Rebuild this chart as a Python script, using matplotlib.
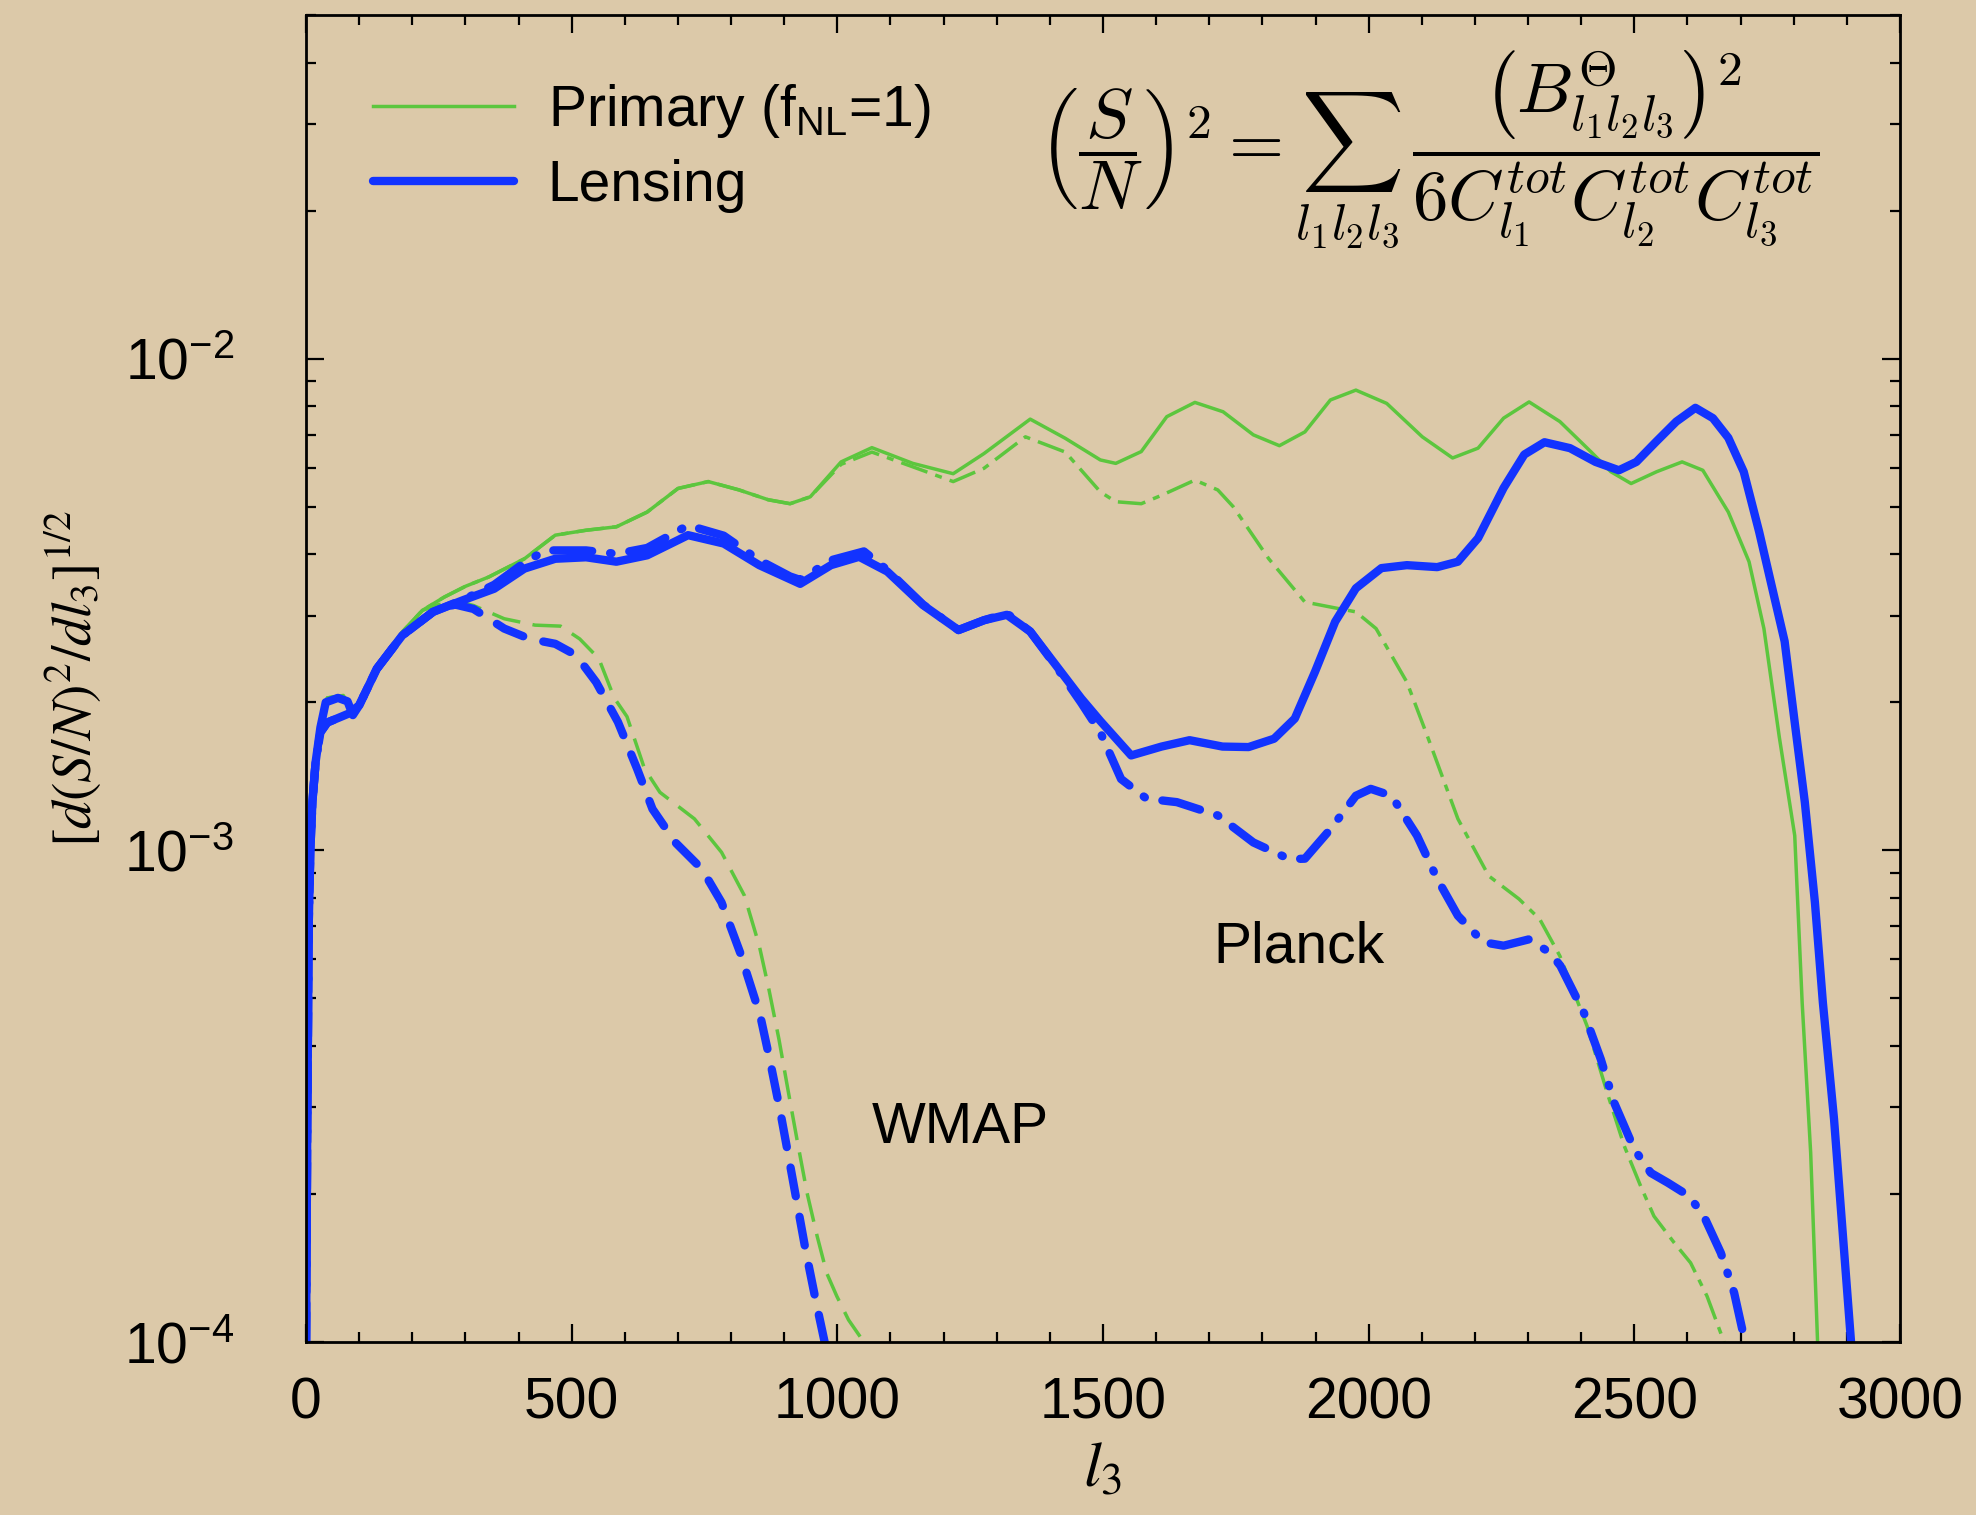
import numpy as np
import matplotlib
matplotlib.use('Agg')
import matplotlib.pyplot as plt
from matplotlib.ticker import MultipleLocator, LogLocator, NullFormatter

plt.rcParams['font.family'] = ['Liberation Sans', 'DejaVu Sans']
plt.rcParams['lines.scale_dashes'] = False

# ---- data (l3, log10 of [d(S/N)^2/dl3]^(1/2)) ----
# Primary (fNL=1), no noise
prim_l = [0, 2, 5, 8, 12, 18, 27, 40, 70, 88, 100, 133, 181, 219, 260, 300, 344, 411, 469, 527,
          584, 642, 700, 757, 815, 870, 911, 949, 1007, 1065, 1142, 1218, 1276, 1363, 1429, 1495,
          1524, 1572, 1620, 1673, 1726, 1783, 1832, 1880, 1928, 1976, 2034, 2101, 2158, 2206,
          2254, 2302, 2360, 2418, 2456, 2494, 2542, 2590, 2629, 2677, 2716, 2744, 2773, 2802,
          2816, 2832, 2845]
prim_log = [-4.0, -3.6, -3.15, -3.0, -2.9, -2.82, -2.75, -2.69, -2.685, -2.715, -2.70, -2.626,
            -2.556, -2.512, -2.485, -2.463, -2.444, -2.407, -2.359, -2.349, -2.342, -2.312,
            -2.264, -2.25, -2.267, -2.287, -2.295, -2.281, -2.21, -2.181, -2.213, -2.234,
            -2.193, -2.123, -2.162, -2.206, -2.213, -2.189, -2.118, -2.089, -2.108, -2.155,
            -2.177, -2.149, -2.084, -2.064, -2.091, -2.159, -2.202, -2.182, -2.121, -2.088,
            -2.128, -2.189, -2.23, -2.254, -2.23, -2.21, -2.227, -2.312, -2.413, -2.549,
            -2.77, -2.97, -3.31, -3.615, -4.0]

# Lensing, no noise
lens_l = [0, 2, 5, 8, 12, 18, 27, 37, 60, 78, 88, 100, 133, 181, 239, 296, 354, 411, 469, 527,
          584, 642, 719, 786, 853, 930, 988, 1041, 1094, 1161, 1228, 1276, 1319, 1363, 1411,
          1459, 1495, 1553, 1610, 1663, 1725, 1774, 1822, 1861, 1899, 1937, 1976, 2024, 2072,
          2129, 2168, 2206, 2254, 2293, 2331, 2379, 2427, 2471, 2504, 2541, 2579, 2615, 2648,
          2677, 2706, 2735, 2764, 2783, 2802, 2821, 2840, 2855, 2876, 2908]
lens_log = [-4.0, -3.6, -3.15, -3.0, -2.9, -2.82, -2.75, -2.699, -2.69, -2.697, -2.725, -2.705,
            -2.631, -2.563, -2.515, -2.491, -2.468, -2.427, -2.407, -2.404, -2.413, -2.40,
            -2.359, -2.376, -2.42, -2.458, -2.42, -2.403, -2.433, -2.501, -2.552, -2.532,
            -2.521, -2.555, -2.623, -2.691, -2.737, -2.807, -2.789, -2.776, -2.789, -2.79,
            -2.773, -2.732, -2.637, -2.535, -2.467, -2.426, -2.42, -2.424, -2.413, -2.365,
            -2.263, -2.195, -2.170, -2.182, -2.21, -2.227, -2.21, -2.169, -2.128, -2.1,
            -2.121, -2.161, -2.23, -2.352, -2.487, -2.575, -2.74, -2.902, -3.106, -3.31,
            -3.547, -4.0]

# Primary, WMAP noise
prim_wmap_l = [0, 2, 5, 8, 12, 18, 27, 40, 70, 88, 100, 133, 181, 219, 250, 290, 315, 373, 431,
               479, 515, 551, 580, 604, 637, 666, 731, 782, 825, 853, 871, 890, 908, 924, 943,
               962, 980, 999, 1021, 1053]
prim_wmap_log = [-4.0, -3.6, -3.15, -3.0, -2.9, -2.82, -2.75, -2.69, -2.685, -2.715, -2.70,
                 -2.626, -2.556, -2.512, -2.50, -2.495, -2.502, -2.529, -2.542, -2.544, -2.57,
                 -2.61, -2.69, -2.728, -2.834, -2.882, -2.936, -3.004, -3.092, -3.194, -3.282,
                 -3.384, -3.493, -3.588, -3.697, -3.785, -3.86, -3.907, -3.955, -4.005]

# Lensing, WMAP noise
lens_wmap_l = [0, 2, 5, 8, 12, 18, 27, 40, 80, 100, 133, 181, 239, 280, 315, 373, 421, 469, 508,
               546, 587, 623, 652, 695, 745, 782, 817, 855, 874, 893, 908, 924, 940, 959, 977]
lens_wmap_log = [-4.0, -3.6, -3.15, -3.0, -2.9, -2.82, -2.76, -2.74, -2.722, -2.705, -2.631,
                 -2.563, -2.515, -2.50, -2.509, -2.549, -2.57, -2.58, -2.603, -2.658, -2.739,
                 -2.834, -2.916, -2.984, -3.038, -3.106, -3.208, -3.337, -3.432, -3.534,
                 -3.622, -3.717, -3.812, -3.914, -4.005]

# Primary, Planck noise
prim_planck_l = [0, 2, 5, 8, 12, 18, 27, 40, 70, 88, 100, 133, 181, 219, 260, 300, 344, 411,
                 469, 527, 584, 642, 700, 757, 815, 870, 911, 949, 1007, 1065, 1142, 1218, 1276,
                 1354, 1429, 1495, 1524, 1572, 1610, 1673, 1716, 1745, 1812, 1880, 1937, 1976,
                 2014, 2072, 2110, 2168, 2226, 2283, 2322, 2360, 2411, 2449, 2481, 2512, 2537,
                 2575, 2606, 2637, 2669]
prim_planck_log = [-4.0, -3.6, -3.15, -3.0, -2.9, -2.82, -2.75, -2.69, -2.685, -2.715, -2.70,
                   -2.626, -2.556, -2.512, -2.485, -2.463, -2.444, -2.407, -2.359, -2.349,
                   -2.342, -2.312, -2.264, -2.25, -2.267, -2.287, -2.295, -2.281, -2.215,
                   -2.19, -2.22, -2.25, -2.223, -2.159, -2.19, -2.271, -2.291, -2.295, -2.278,
                   -2.247, -2.267, -2.301, -2.407, -2.495, -2.507, -2.515, -2.549, -2.658,
                   -2.766, -2.936, -3.052, -3.099, -3.14, -3.215, -3.357, -3.493, -3.601,
                   -3.683, -3.744, -3.798, -3.839, -3.907, -4.0]

# Lensing, Planck noise
lens_planck_l = [0, 2, 5, 8, 12, 18, 27, 40, 80, 100, 133, 181, 239, 296, 354, 411, 450, 527,
                 584, 642, 719, 786, 853, 911, 930, 988, 1050, 1094, 1161, 1228, 1276, 1319,
                 1363, 1411, 1459, 1495, 1534, 1582, 1639, 1716, 1783, 1851, 1880, 1928, 1976,
                 2004, 2043, 2091, 2129, 2168, 2216, 2254, 2302, 2341, 2361, 2405, 2437, 2462,
                 2500, 2531, 2563, 2603, 2631, 2663, 2688, 2704]
lens_planck_log = [-4.0, -3.6, -3.15, -3.0, -2.9, -2.82, -2.76, -2.74, -2.722, -2.705, -2.631,
                   -2.563, -2.515, -2.49, -2.46, -2.415, -2.39, -2.39, -2.397, -2.385, -2.339,
                   -2.36, -2.41, -2.443, -2.45, -2.41, -2.392, -2.43, -2.50, -2.552, -2.532,
                   -2.518, -2.555, -2.625, -2.70, -2.76, -2.855, -2.895, -2.902, -2.929,
                   -2.984, -3.018, -3.017, -2.957, -2.889, -2.875, -2.889, -2.97, -3.058,
                   -3.133, -3.187, -3.194, -3.181, -3.208, -3.235, -3.33, -3.425, -3.513,
                   -3.608, -3.656, -3.676, -3.703, -3.744, -3.819, -3.9, -3.978]

# ---- style ----
BG = '#DCC9A9'
GREEN = '#5CC63E'
BLUE = '#1233FF'
LW_G = 2.5
LW_B = 6.0

fig = plt.figure(figsize=(19.76, 15.15), dpi=100, facecolor=BG)
ax = fig.add_axes([0.1549, 0.1142, 0.8066, 0.8759])
ax.set_facecolor(BG)

def pw(v):
    return 10.0 ** np.asarray(v)

# green (primary) first, blue (lensing) on top
ax.plot(prim_l, pw(prim_log), color=GREEN, lw=LW_G, label=r'Primary (f$_{\mathregular{NL}}$=1)')
ax.plot(prim_wmap_l, pw(prim_wmap_log), color=GREEN, lw=LW_G, dashes=(21, 9))
ax.plot(prim_planck_l, pw(prim_planck_log), color=GREEN, lw=LW_G, dashes=(20, 6, 5, 6))

ax.plot(lens_l, pw(lens_log), color=BLUE, lw=LW_B, solid_capstyle='round',
        solid_joinstyle='round', label='Lensing')
ax.plot(lens_wmap_l, pw(lens_wmap_log), color=BLUE, lw=LW_B, dashes=(21, 15),
        dash_capstyle='round', dash_joinstyle='round')
ax.plot(lens_planck_l, pw(lens_planck_log), color=BLUE, lw=LW_B, dashes=(28, 13, 1, 13),
        dash_capstyle='round', dash_joinstyle='round')

ax.set_yscale('log')
ax.set_xlim(0, 3000)
ax.set_ylim(1e-4, 5e-2)
ax.xaxis.set_major_locator(MultipleLocator(500))
ax.xaxis.set_minor_locator(MultipleLocator(100))
ax.yaxis.set_major_locator(LogLocator(base=10))
ax.yaxis.set_minor_locator(LogLocator(base=10, subs=np.arange(2, 10)))
ax.yaxis.set_minor_formatter(NullFormatter())

ax.tick_params(which='both', direction='in', top=True, right=True, width=1.6, colors='black')
ax.tick_params(which='major', length=13)
ax.tick_params(which='minor', length=7)
ax.tick_params(axis='x', which='major', labelsize=41, pad=25)
ax.tick_params(axis='y', which='major', labelsize=41, pad=52)
for s in ax.spines.values():
    s.set_linewidth(2.0)

ax.set_xlabel(r'$l_3$', fontsize=46, math_fontfamily='stix', labelpad=6)
ax.set_ylabel(r'$[d(S/N)^2/dl_3]^{1/2}$', fontsize=40, math_fontfamily='stix', labelpad=14)

leg = ax.legend(loc='upper left', bbox_to_anchor=(0.042, 0.9495), frameon=False, fontsize=41,
                handlelength=2.47, handletextpad=0.6, labelspacing=0.33, borderpad=0,
                borderaxespad=0)

formula = (r'$\left(\dfrac{S}{N}\right)^2 = \sum_{l_1 l_2 l_3}\,'
           r'\dfrac{\left(B^{\Theta}_{l_1 l_2 l_3}\right)^2}'
           r'{6C^{tot}_{l_1}C^{tot}_{l_2}C^{tot}_{l_3}}$')
ax.text(0.704, 0.899, formula, transform=ax.transAxes, ha='center', va='center',
        fontsize=51, math_fontfamily='cm')

ax.text(1232, 10 ** -3.564, 'WMAP', fontsize=41, ha='center', va='center')
ax.text(1868, 10 ** -3.198, 'Planck', fontsize=41, ha='center', va='center')

fig.savefig('out.png', dpi=100, facecolor=BG)
